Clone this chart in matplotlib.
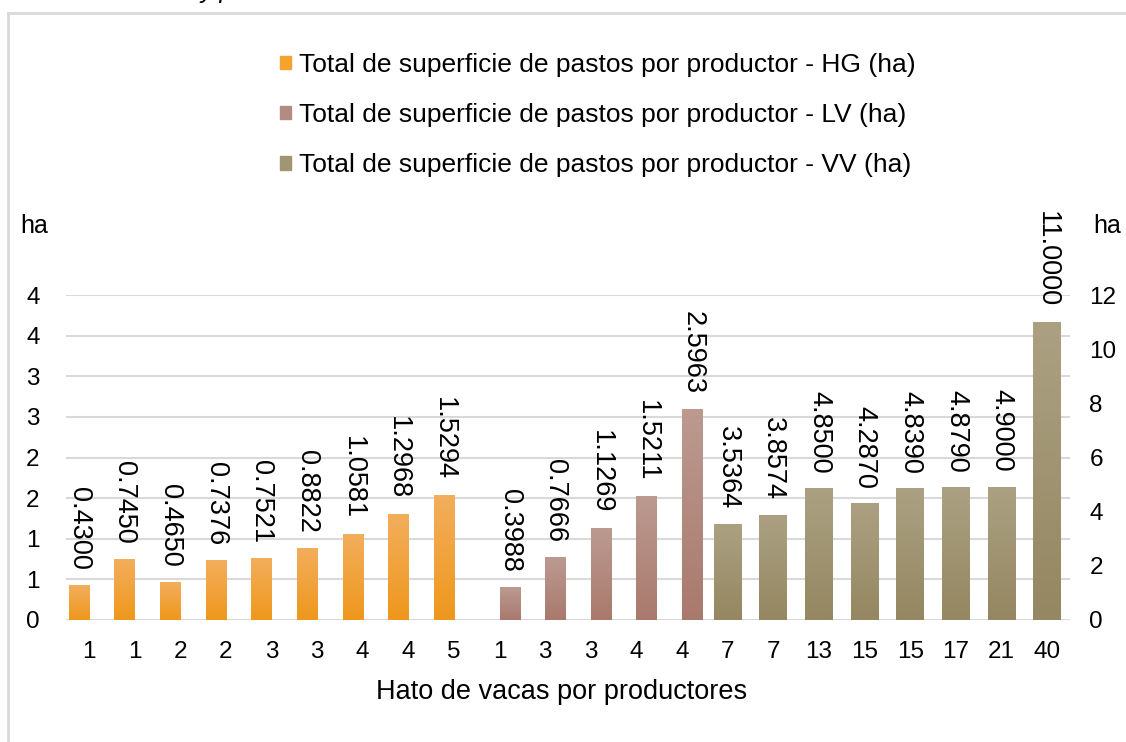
import matplotlib
matplotlib.use("Agg")
import matplotlib.pyplot as plt
from matplotlib.patches import Patch
from matplotlib.colors import LinearSegmentedColormap
from matplotlib.ticker import FuncFormatter, MultipleLocator
import numpy as np

plt.rcParams["font.family"] = ["Liberation Sans", "DejaVu Sans"]

# categories: cows per producer
hato = ["1", "1", "2", "2", "3", "3", "4", "4", "5",
        "1", "3", "3", "4", "4",
        "7", "7", "13", "15", "15", "17", "21", "40"]
hg = [0.4300, 0.7450, 0.4650, 0.7376, 0.7521, 0.8822, 1.0581, 1.2968, 1.5294]
lv = [0.3988, 0.7666, 1.1269, 1.5211, 2.5963]
vv = [3.5364, 3.8574, 4.8500, 4.2870, 4.8390, 4.8790, 4.9000, 11.0000]
labels = ["Total de superficie de pastos por productor - HG (ha)",
          "Total de superficie de pastos por productor - LV (ha)",
          "Total de superficie de pastos por productor - VV (ha)"]
colors = ["#F4A32E", "#B38B80", "#A19572"]
tops = ["#F3AE5C", "#BC9A90", "#ABA182"]
bottoms = ["#EE971C", "#A9796D", "#948761"]

W, H = 1126, 742
fig = plt.figure(figsize=(W / 100, H / 100), dpi=100)
ax = fig.add_axes([66 / W, (H - 620) / H, (1070 - 66) / W, (620 - 295) / H])
ax2 = ax.twinx()

x = np.arange(len(hato))
x_hg = x[:len(hg)] - 0.22
x_lv = x[len(hg):len(hg) + len(lv)] + 0.22
x_vv = x[len(hg) + len(lv):]


def shaded(a, xs, vals, width, i):
    bars = a.bar(xs, vals, width=width, color=colors[i], zorder=3)
    cmap = LinearSegmentedColormap.from_list("g", [bottoms[i], tops[i]])
    grad = np.linspace(0, 1, 128).reshape(-1, 1)
    for b in bars:
        x0, w, h = b.get_x(), b.get_width(), b.get_height()
        a.imshow(grad, extent=[x0, x0 + w, 0, h], origin="lower", cmap=cmap,
                 aspect="auto", zorder=3.5, interpolation="bilinear")
    for xi, v in zip(xs, vals):
        a.annotate(f"{v:.4f}", (xi, v), ha="center", va="bottom", rotation=-90,
                   fontsize=19.5, textcoords="offset points", xytext=(0, 11),
                   zorder=5)


shaded(ax, x_hg, hg, 0.44, 0)
shaded(ax, x_lv, lv, 0.44, 1)
shaded(ax2, x_vv, vv, 0.61, 2)

ax.set_xlim(-0.5, len(hato) - 0.5)
ax.set_ylim(0, 4)
ax2.set_ylim(0, 12)
ax.yaxis.set_major_locator(MultipleLocator(0.5))
ax.yaxis.set_major_formatter(FuncFormatter(lambda v, p: f"{int(np.floor(v + 0.5))}"))
ax2.yaxis.set_major_locator(MultipleLocator(2))
ax.set_xticks(x)
ax.set_xticklabels(hato)
ax.grid(axis="y", color="#D9D9D9", linewidth=1.5, zorder=0)
ax.set_axisbelow(True)
for a in (ax, ax2):
    for s in a.spines.values():
        s.set_visible(False)
ax.tick_params(axis="x", length=0, labelsize=17.5, pad=15)
ax.tick_params(axis="y", length=0, labelsize=17.5, pad=19)
ax2.tick_params(axis="y", length=0, labelsize=17.5, pad=14)

fig.text(562 / W, (H - 692) / H, "Hato de vacas por productores",
         ha="center", va="center", fontsize=19.5)
fig.text(20 / W, (H - 226) / H, "ha", ha="left", va="center", fontsize=18)
fig.text(1093 / W, (H - 226) / H, "ha", ha="left", va="center", fontsize=18)

handles = [Patch(color=c) for c in colors]
fig.legend(handles, labels, loc="center", bbox_to_anchor=(598 / W, (H - 115) / H),
           frameon=False, fontsize=19, handlelength=0.4, handleheight=0.4,
           handletextpad=0.3, labelspacing=1.0)

# chart frame (cut off at right and bottom in the source)
fig.add_artist(plt.Line2D([8 / W, 8 / W], [0, (H - 13) / H], color="#D9D9D9", lw=2,
                          transform=fig.transFigure))
fig.add_artist(plt.Line2D([8 / W, 1], [(H - 13) / H, (H - 13) / H], color="#D9D9D9", lw=2,
                          transform=fig.transFigure))
fig.text(200 / W, (H + 2) / H, "y p", ha="left", va="baseline", fontsize=18,
         style="italic")

fig.savefig("out.png", dpi=100)
